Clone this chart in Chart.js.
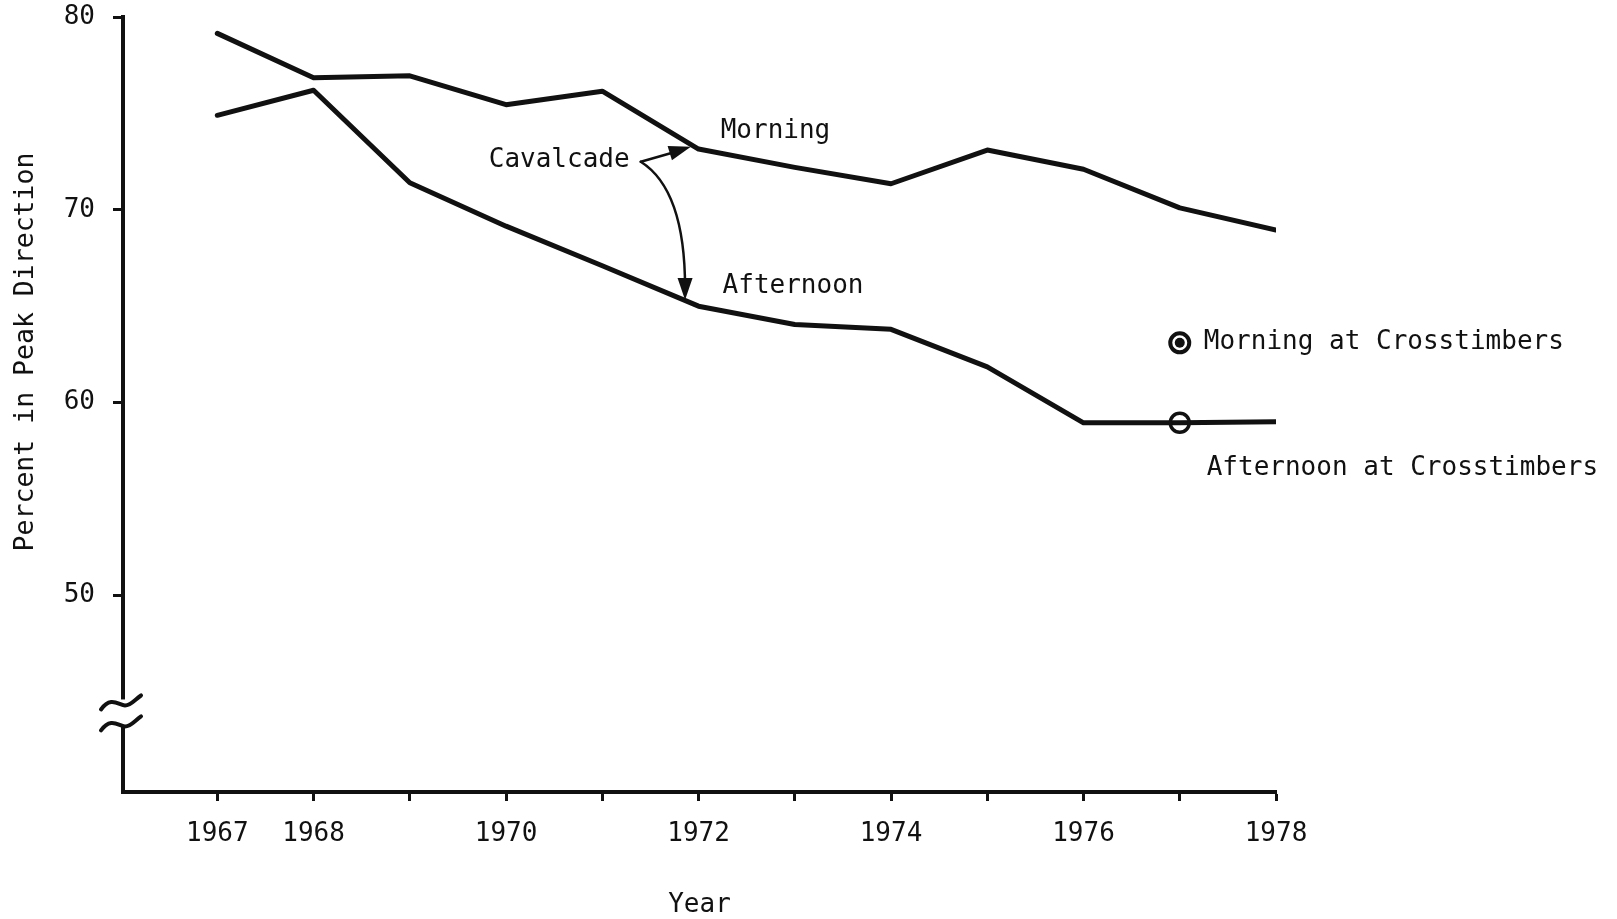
<!DOCTYPE html>
<html><head><meta charset="utf-8">
<script src="https://cdn.jsdelivr.net/npm/chart.js@4.4.0/dist/chart.umd.min.js"></script>
<style>html,body{margin:0;padding:0;background:#fff}#wrap{width:1617px;height:919px}</style>
</head><body><div id="wrap"><canvas id="c" width="1617" height="919"></canvas></div>
<script>
// ---- data ----
const years = [1967,1968,1969,1970,1971,1972,1973,1974,1975,1976,1977,1978];
const morning = [79.15,76.85,76.95,75.45,76.15,73.15,72.2,71.35,73.1,72.1,70.1,68.95];
const afternoon = [74.9,76.2,71.4,69.15,67.1,65.0,64.05,63.8,61.85,58.95,58.95,59.0];
const crossYears = [1977];
const crossMorning = [63.1];
const crossAfternoon = [58.95];
const xTickLabels = ['1967','1968','1970','1972','1974','1976','1978'];
const yTickValues = [50,60,70,80];

const INK = '#111';
const MONO = '"DejaVu Sans Mono", "Liberation Mono", monospace';

function pts(xs, ys){ return xs.map((x,i)=>({x:x, y:ys[i]})); }

const annot = {
  id:'annot',
  afterDraw(chart){
    const ctx = chart.ctx, xs = chart.scales.x, ys = chart.scales.y;
    const P = (x,y)=>[xs.getPixelForValue(x), ys.getPixelForValue(y)];
    ctx.save();
    ctx.fillStyle = INK; ctx.strokeStyle = INK;
    ctx.font = '26px ' + MONO;
    ctx.textBaseline = 'middle'; ctx.textAlign = 'left';
    const texts = [
      ['Morning', 1972.23, 74.05],
      ['Afternoon', 1972.25, 66.05],
      ['Cavalcade', 1969.82, 72.55],
      ['Morning at Crosstimbers', 1977.25, 63.15],
      ['Afternoon at Crosstimbers', 1977.28, 56.6]
    ];
    texts.forEach(t=>{ const p = P(t[1],t[2]); ctx.fillText(t[0], p[0], p[1]); });

    // y axis title
    ctx.save();
    ctx.translate(26, 352);
    ctx.rotate(-Math.PI/2);
    ctx.textAlign = 'center';
    ctx.font = '26.5px ' + MONO;
    ctx.fillText('Percent in Peak Direction', 0, 0);
    ctx.restore();

    // arrows
    function head(tip, from, len, wid){
      const dx = tip[0]-from[0], dy = tip[1]-from[1], d = Math.hypot(dx,dy);
      const ux = dx/d, uy = dy/d;
      const bx = tip[0]-ux*len, by = tip[1]-uy*len;
      ctx.beginPath();
      ctx.moveTo(tip[0], tip[1]);
      ctx.lineTo(bx - uy*wid/2, by + ux*wid/2);
      ctx.lineTo(bx + uy*wid/2, by - ux*wid/2);
      ctx.closePath(); ctx.fill();
    }
    const o = P(1971.40, 72.49);
    const t1 = P(1971.92, 73.27);
    const t2 = P(1971.86, 65.32);
    const c2 = P(1971.86, 71.04);
    ctx.lineWidth = 2.5; ctx.lineCap = 'round';
    ctx.beginPath(); ctx.moveTo(o[0], o[1]); ctx.lineTo(t1[0]-8, t1[1]+3); ctx.stroke();
    head(t1, o, 22, 15);
    ctx.beginPath(); ctx.moveTo(o[0], o[1]); ctx.quadraticCurveTo(c2[0], c2[1], t2[0], t2[1]-12); ctx.stroke();
    head(t2, c2, 22, 15);

    // axis break on y
    const bx = xs.left;
    const yTop = ys.getPixelForValue(44.6), yBot = ys.getPixelForValue(43.2);
    ctx.fillStyle = '#fff';
    ctx.fillRect(bx-4, yTop, 8, yBot-yTop);
    ctx.strokeStyle = INK; ctx.lineWidth = 4; ctx.lineCap = 'round';
    [yTop+4, yBot-2].forEach(yc=>{
      ctx.beginPath();
      ctx.moveTo(bx-22, yc+6);
      ctx.bezierCurveTo(bx-12, yc-8, bx-4, yc+2, bx+2, yc+2);
      ctx.bezierCurveTo(bx+8, yc+2, bx+12, yc-4, bx+18, yc-8);
      ctx.stroke();
    });
    ctx.restore();
  }
};

new Chart(document.getElementById('c'), {
  type:'line',
  data:{
    datasets:[
      {label:'Morning', data:pts(years, morning), borderColor:INK, borderWidth:5, pointRadius:0, tension:0, fill:false, borderJoinStyle:'round', borderCapStyle:'round'},
      {label:'Afternoon', data:pts(years, afternoon), borderColor:INK, borderWidth:5, pointRadius:0, tension:0, fill:false, borderJoinStyle:'round', borderCapStyle:'round'},
      {label:'Morning at Crosstimbers (centre)', data:pts(crossYears, crossMorning), showLine:false, pointRadius:5, pointBorderWidth:0, pointBackgroundColor:INK, order:-2},
      {label:'Morning at Crosstimbers', data:pts(crossYears, crossMorning), showLine:false, pointRadius:9.5, pointBorderWidth:4, pointBorderColor:INK, pointBackgroundColor:'#fff', order:-1},
      {label:'Afternoon at Crosstimbers', data:pts(crossYears, crossAfternoon), showLine:false, pointRadius:9.5, pointBorderWidth:3.5, pointBorderColor:INK, pointBackgroundColor:'rgba(0,0,0,0)', order:-1}
    ]
  },
  options:{
    responsive:false, animation:false, devicePixelRatio:1,
    layout:{padding:{top:17, right:341, bottom:0, left:0}},
    plugins:{legend:{display:false}, tooltip:{enabled:false}},
    scales:{
      x:{
        type:'linear', min:1966.02, max:1978,
        afterBuildTicks:s=>{ s.ticks = years.map(v=>({value:v})); },
        afterFit:s=>{ s.height = 127; s.paddingLeft = 0; s.paddingRight = 0; },
        grid:{display:true, drawOnChartArea:false, drawTicks:true, tickLength:9, tickWidth:3, tickColor:INK},
        border:{display:true, color:INK, width:4},
        ticks:{autoSkip:false, maxRotation:0, padding:18, color:INK, font:{family:MONO, size:26},
          callback:v=> xTickLabels.includes(String(v)) ? String(v) : ''},
        title:{display:true, text:'Year', color:INK, font:{family:MONO, size:26, lineHeight:0.9}, padding:{top:0,bottom:2}}
      },
      y:{
        type:'linear', min:39.8, max:80,
        afterBuildTicks:s=>{ s.ticks = yTickValues.map(v=>({value:v})); },
        afterFit:s=>{ s.width = 123; s.paddingTop = 0; s.paddingBottom = 0; },
        grid:{display:true, drawOnChartArea:false, drawTicks:true, tickLength:10, tickWidth:3, tickColor:INK},
        border:{display:true, color:INK, width:4},
        ticks:{padding:18, color:INK, font:{family:MONO, size:26}}
      }
    }
  },
  plugins:[annot]
});
</script></body></html>
